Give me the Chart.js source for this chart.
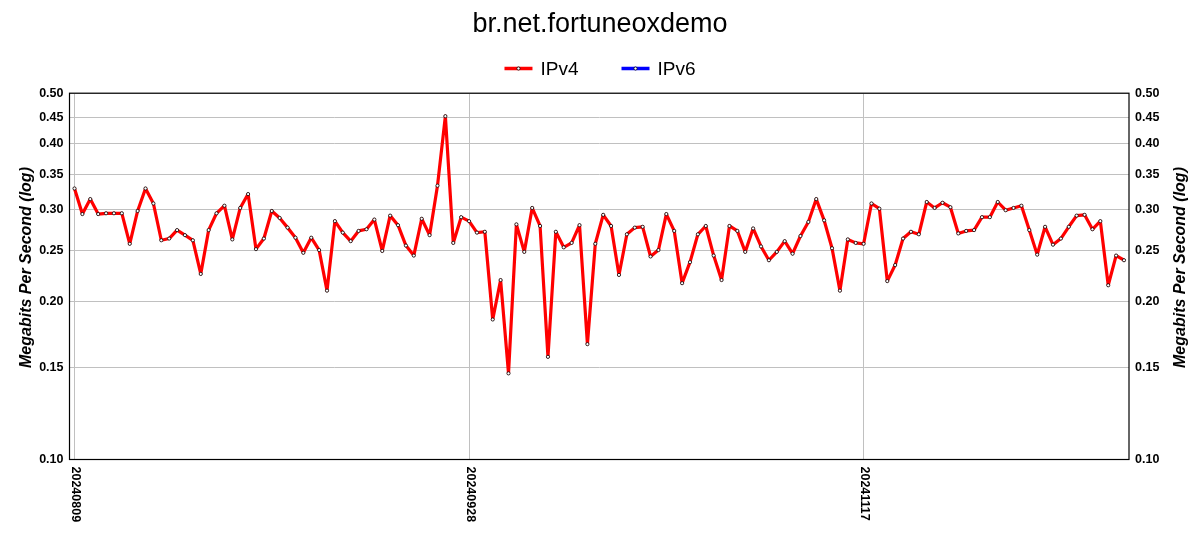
<!DOCTYPE html>
<html>
<head>
<meta charset="utf-8">
<script src="https://cdn.jsdelivr.net/npm/chart.js@4/dist/chart.umd.min.js"></script>
<style>
html,body{margin:0;padding:0;background:#fff;}
#c{display:block;}
</style>
</head>
<body>
<canvas id="c" width="1200" height="550"></canvas>
<script>
const chartTitle = 'br.net.fortuneoxdemo';
const yAxisTitle = 'Megabits Per Second (log)';

const dates = [
'20240809','20240810','20240811','20240812','20240813','20240814','20240815','20240816','20240817','20240818',
'20240819','20240820','20240821','20240822','20240823','20240824','20240825','20240826','20240827','20240828',
'20240829','20240830','20240831',
'20240901','20240902','20240903','20240904','20240905','20240906','20240907','20240908','20240909','20240910',
'20240911','20240912','20240913','20240914','20240915','20240916','20240917','20240918','20240919','20240920',
'20240921','20240922','20240923','20240924','20240925','20240926','20240927','20240928','20240929','20240930',
'20241001','20241002','20241003','20241004','20241005','20241006','20241007','20241008','20241009','20241010',
'20241011','20241012','20241013','20241014','20241015','20241016','20241017','20241018','20241019','20241020',
'20241021','20241022','20241023','20241024','20241025','20241026','20241027','20241028','20241029','20241030',
'20241031',
'20241101','20241102','20241103','20241104','20241105','20241106','20241107','20241108','20241109','20241110',
'20241111','20241112','20241113','20241114','20241115','20241116','20241117','20241118','20241119','20241120',
'20241121','20241122','20241123','20241124','20241125','20241126','20241127','20241128','20241129','20241130',
'20241201','20241202','20241203','20241204','20241205','20241206','20241207','20241208','20241209','20241210',
'20241211','20241212','20241213','20241214','20241215','20241216','20241217','20241218','20241219','20241220'
];

const ipv4 = [
0.329,0.294,0.314,0.294,0.295,0.295,0.295,0.258,0.298,0.329,
0.308,0.262,0.264,0.274,0.268,0.262,0.226,0.274,0.295,0.305,
0.263,0.302,0.321,0.252,0.264,0.298,0.289,0.277,0.265,0.248,
0.265,0.251,0.210,0.285,0.271,0.261,0.273,0.275,0.287,0.250,
0.292,0.280,0.256,0.245,0.288,0.268,0.333,0.452,0.259,0.290,
0.285,0.271,0.272,0.185,0.220,0.146,0.281,0.249,0.302,0.279,
0.157,0.272,0.254,0.259,0.280,0.166,0.258,0.293,0.279,0.225,
0.269,0.277,0.278,0.244,0.251,0.294,0.273,0.217,0.238,0.269,
0.279,0.245,0.220,0.279,0.273,0.249,0.276,0.255,0.240,0.249,
0.261,0.247,0.267,0.284,0.314,0.286,0.253,0.210,0.263,0.259,
0.258,0.308,0.301,0.219,0.235,0.264,0.272,0.269,0.310,0.302,
0.309,0.303,0.270,0.273,0.274,0.290,0.290,0.310,0.299,0.302,
0.305,0.274,0.246,0.278,0.257,0.264,0.278,0.292,0.293,0.275,
0.285,0.215,0.245,0.240
];

const ipv6 = [];

const xTickLabels = ['20240809','20240928','20241117'];
const yTickValues = [0.10,0.15,0.20,0.25,0.30,0.35,0.40,0.45,0.50];

const FONT = "'Liberation Sans', Arial, Helvetica, sans-serif";
const GRID = '#c0c0c0';

const decor = {
  id: 'decor',
  afterDraw(chart) {
    const {ctx, chartArea: a, scales} = chart;
    ctx.save();
    // plot border
    ctx.strokeStyle = '#000';
    ctx.lineWidth = 1.2;
    ctx.strokeRect(a.left, a.top, a.right - a.left, a.bottom - a.top);

    // x tick labels, rotated clockwise
    ctx.fillStyle = '#000';
    ctx.font = 'bold 12.5px ' + FONT;
    ctx.textAlign = 'left';
    ctx.textBaseline = 'middle';
    scales.x.ticks.forEach(t => {
      const px = scales.x.getPixelForValue(t.value);
      ctx.save();
      ctx.translate(px + 1, a.bottom + 7);
      ctx.rotate(Math.PI / 2);
      ctx.fillText(dates[t.value], 0, 0);
      ctx.restore();
    });

    // y axis titles (both read bottom-to-top)
    ctx.font = 'bold italic 16px ' + FONT;
    ctx.textAlign = 'center';
    ctx.textBaseline = 'middle';
    const cy = 267.5;
    [27, 1181].forEach(x => {
      ctx.save();
      ctx.translate(x, cy);
      ctx.rotate(-Math.PI / 2);
      ctx.fillText(yAxisTitle, 0, 0);
      ctx.restore();
    });

    // legend
    ctx.font = '19px ' + FONT;
    const items = chart.data.datasets.map(d => ({
      text: d.label, color: d.borderColor, w: ctx.measureText(d.label).width
    }));
    const boxW = 28, gapT = 8, gapI = 43;
    const total = items.reduce((s, it, i) => s + boxW + gapT + it.w + (i ? gapI : 0), 0);
    let x = chart.width / 2 - total / 2;
    const y = 68.5;
    items.forEach(it => {
      ctx.strokeStyle = it.color;
      ctx.lineWidth = 3.5;
      ctx.beginPath();
      ctx.moveTo(x, y);
      ctx.lineTo(x + boxW, y);
      ctx.stroke();
      ctx.beginPath();
      ctx.arc(x + boxW / 2, y, 1.6, 0, Math.PI * 2);
      ctx.fillStyle = '#fff';
      ctx.fill();
      ctx.lineWidth = 0.8;
      ctx.strokeStyle = '#000';
      ctx.stroke();
      ctx.fillStyle = '#000';
      ctx.textAlign = 'left';
      ctx.textBaseline = 'middle';
      ctx.fillText(it.text, x + boxW + gapT, y + 1);
      x += boxW + gapT + it.w + gapI;
    });
    ctx.restore();
  }
};

const yTickOpts = {
  color: '#000',
  font: {family: FONT, size: 12.5, weight: 'bold'},
  padding: 6,
  autoSkip: false,
  callback: v => Number(v).toFixed(2)
};

new Chart(document.getElementById('c'), {
  type: 'line',
  data: {
    datasets: [
      {
        label: 'IPv4',
        data: ipv4.map((v, i) => ({x: i, y: v})),
        borderColor: '#ff0000',
        backgroundColor: '#ff0000',
        borderWidth: 3.2,
        borderJoinStyle: 'round',
        borderCapStyle: 'round',
        tension: 0,
        pointRadius: 1.6,
        pointBorderWidth: 0.8,
        pointBackgroundColor: '#ffffff',
        pointBorderColor: '#000000',
        fill: false
      },
      {
        label: 'IPv6',
        data: ipv6.map((v, i) => ({x: i, y: v})),
        borderColor: '#0000ff',
        backgroundColor: '#0000ff',
        borderWidth: 3.2,
        borderJoinStyle: 'round',
        pointRadius: 1.6,
        pointBackgroundColor: '#ffffff',
        pointBorderColor: '#000000',
        fill: false
      }
    ]
  },
  options: {
    responsive: false,
    animation: false,
    devicePixelRatio: 1,
    layout: {padding: {left: 0, right: 0, top: 0, bottom: 90.5}},
    plugins: {
      legend: {display: false},
      tooltip: {enabled: false},
      title: {
        display: true,
        text: chartTitle,
        color: '#000',
        font: {family: FONT, size: 27, weight: 'normal'},
        padding: {top: 8, bottom: 52.8}
      }
    },
    scales: {
      x: {
        type: 'linear',
        min: -0.633,
        max: dates.length - 1 + 0.633,
        afterBuildTicks: s => { s.ticks = xTickLabels.map(l => ({value: dates.indexOf(l)})); },
        ticks: {display: false},
        grid: {color: GRID, drawTicks: false, lineWidth: 1},
        border: {display: false}
      },
      y: {
        type: 'logarithmic',
        position: 'left',
        min: 0.1,
        max: 0.5,
        afterBuildTicks: s => { s.ticks = yTickValues.map(v => ({value: v})); },
        afterFit: s => { s.width = 69.5; },
        ticks: yTickOpts,
        grid: {color: GRID, drawTicks: false, lineWidth: 1},
        border: {display: false}
      },
      y2: {
        type: 'logarithmic',
        position: 'right',
        min: 0.1,
        max: 0.5,
        afterBuildTicks: s => { s.ticks = yTickValues.map(v => ({value: v})); },
        afterFit: s => { s.width = 71; },
        ticks: yTickOpts,
        grid: {drawOnChartArea: false, drawTicks: false},
        border: {display: false}
      }
    }
  },
  plugins: [decor]
});
</script>
</body>
</html>
